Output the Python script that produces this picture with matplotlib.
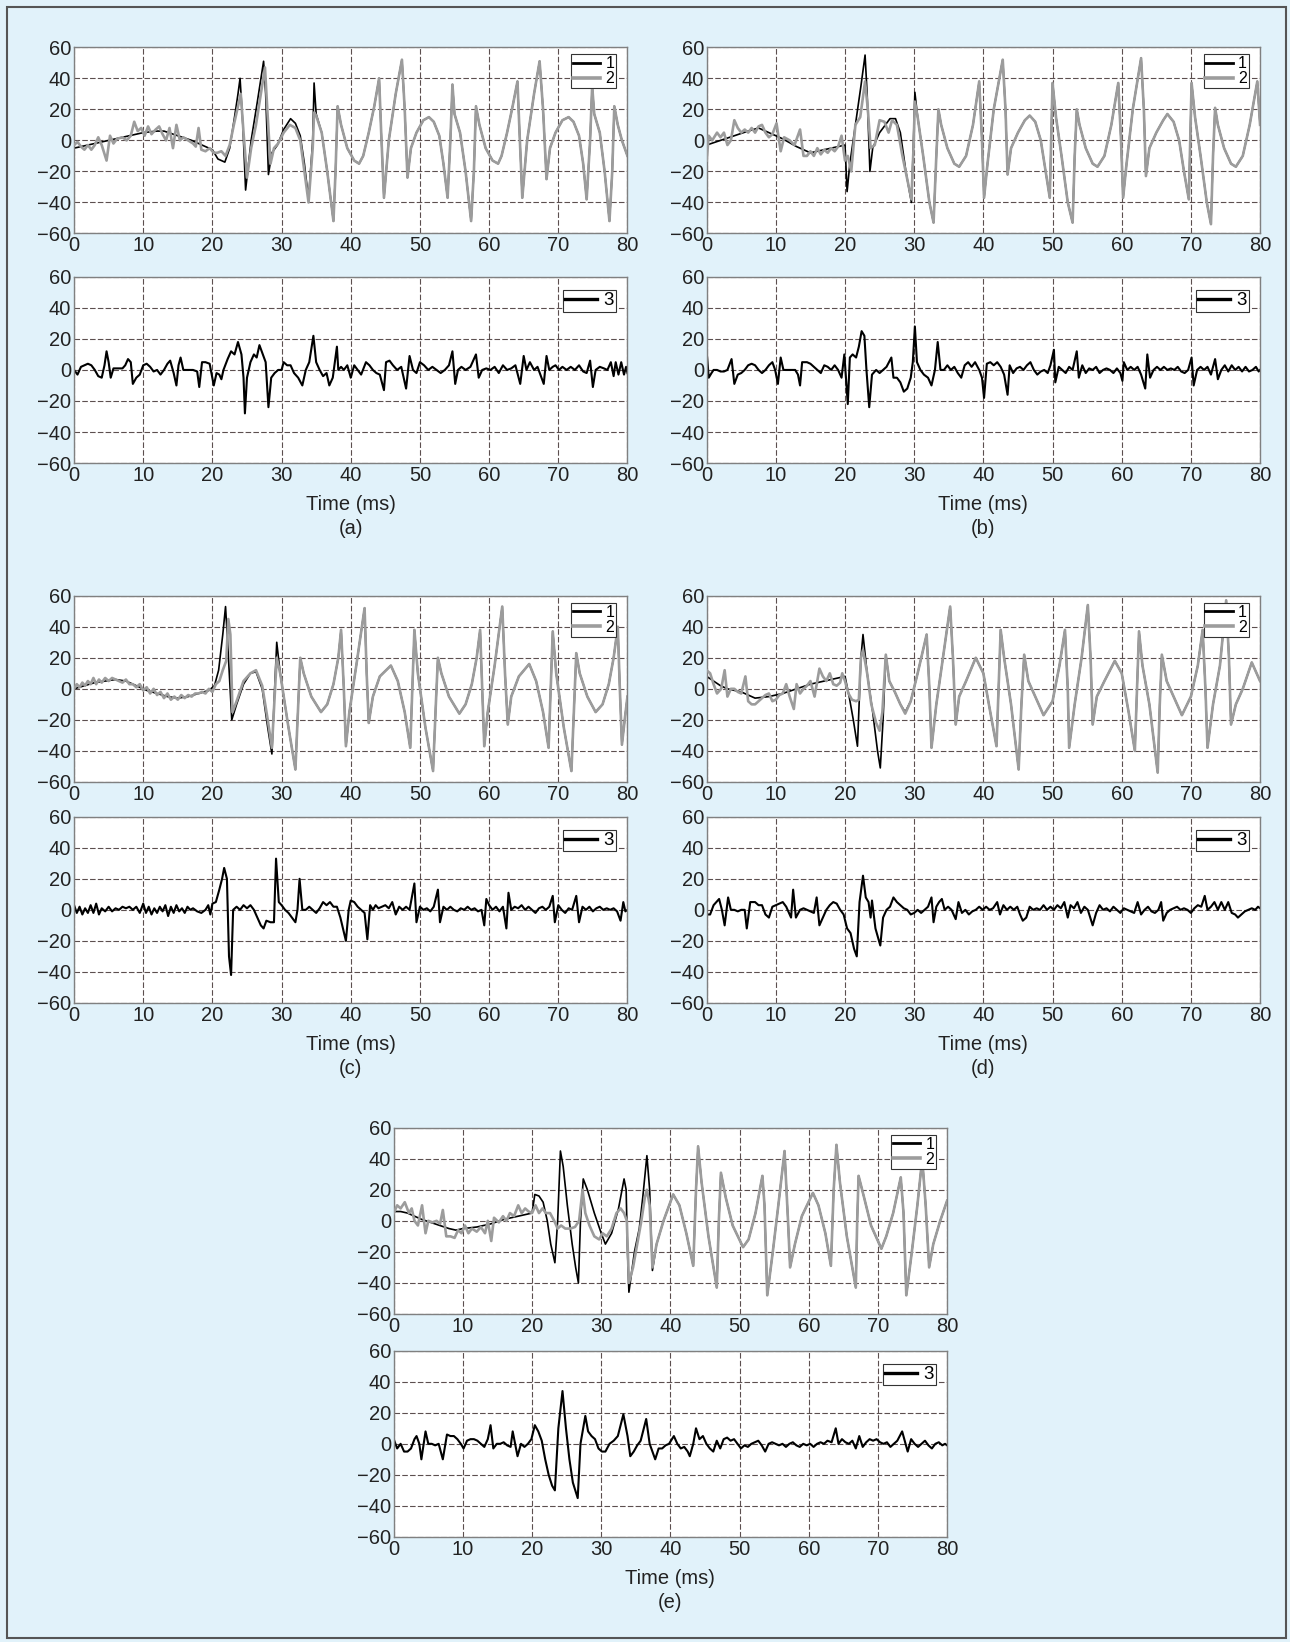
import matplotlib
matplotlib.use("Agg")
import matplotlib.pyplot as plt
from matplotlib.patches import Rectangle

plt.rcParams['font.family'] = ['Liberation Sans', 'DejaVu Sans']
plt.rcParams['axes.unicode_minus'] = True

BG = '#e1f2fa'
GRID = '#5c4f4f'
GRAY = '#9c9c9c'

# ---- data: (time in ms, amplitude) ----
# panel (a)
a1 = [(0,-5),(2,-3),(4,-1),(6,1),(8,3),(10,5),(12,6),(13,6),(15,3),(17,0),(19,-4),(20,-6),(20.8,-12),(21.8,-14),
      (22.5,-5),(23.2,15),(23.7,30),(24.0,40),(24.4,10),(24.8,-32),(25.6,0),(26.5,25),(27.4,51),(27.7,30),(28.1,-22),
      (28.6,-8),(29.4,-3),(30.3,7),(31.3,14),(32.0,11),(32.7,3),(33.3,-15),(33.9,-38),(34.5,0),(34.7,37),(35.0,17),
      (35.8,5),(36.6,-20),(37.5,-52),(37.8,-20),(38.1,22),(38.6,10),(39.5,-5),(40.5,-13),(41.2,-15),(41.8,-10),(42.6,5),
      (43.4,22),(44.1,40),(44.4,5),(44.8,-37),(45.5,0),(46.5,30),(47.4,52),(47.8,20),(48.2,-24),(48.7,-5),(49.5,5),
      (50.5,13),(51.3,15),(52.0,12),(52.8,3),(53.4,-15),(54.0,-37),(54.4,0),(54.7,36),(55.0,17),(55.8,5),(56.6,-20),
      (57.4,-52),(57.8,-20),(58.1,22),(58.6,10),(59.5,-5),(60.5,-13),(61.3,-15),(61.8,-10),(62.6,5),(63.4,22),(64.1,38),
      (64.4,5),(64.8,-37),(65.5,0),(66.5,30),(67.3,51),(67.8,20),(68.3,-25),(68.8,-5),(69.6,5),(70.6,13),(71.5,15),
      (72.2,12),(73.0,3),(73.6,-15),(74.1,-38),(74.6,0),(74.9,35),(75.2,17),(76.0,5),(76.7,-20),(77.4,-52),(77.8,-20),
      (78.1,22),(78.6,10),(79.2,0),(80,-10)]
a2_head = [(0,-3),(0.5,-1),(1,-4),(1.5,-6),(2,-3),(2.5,-6),(3,-3),(3.5,2),(4,-3),(4.7,-13),(5.2,3),(5.7,-2),(6.2,1),
           (7,2),(7.6,0),(8.2,3),(8.7,12),(9.2,6),(9.7,8),(10.2,3),(10.7,9),(11.2,4),(11.8,7),(12.3,9),(12.8,4),(13.3,0),
           (13.8,8),(14.3,-5),(14.8,10),(15.3,0),(15.8,2),(16.5,0),(17.2,-2),(17.6,-4),(18.0,8),(18.4,-6),(19,-7),
           (19.6,-5),(20.2,-8),(20.7,-8),(21.3,-7),(21.9,-10),(22.5,-3),(23.1,10),(23.7,22),(24.1,30),(24.5,5),
           (25.0,-24),(25.6,-5),(26.3,10),(27.0,30),(27.6,47),(28.0,15),(28.4,-15),(28.9,-5),(29.5,-2),(30.3,5),
           (31.2,10),(32.0,8),(32.7,0),(33.3,-20),(33.9,-40),(34.5,-5),(34.7,18),(35.0,16)]
a3 = [(0,0),(0.5,-3),(1,2),(1.5,3),(2,4),(2.5,3),(3,0),(3.5,-4),(4,-5),(4.4,3),(4.7,12),(5.0,5),(5.3,-5),(5.7,1),
      (6.2,1),(7,1),(7.4,3),(7.8,7),(8.2,5),(8.5,-9),(9,-5),(9.5,-3),(10,3),(10.5,4),(11,2),(11.5,-1),(12,0),(12.5,-3),
      (13,0),(13.5,4),(13.9,6),(14.4,-2),(14.8,-10),(15.1,3),(15.4,8),(15.8,0),(16.5,0),(17.2,0),(17.8,-1),(18.1,-11),
      (18.5,5),(19,5),(19.6,4),(20.2,-10),(20.6,-2),(21.0,-3),(21.3,-6),(21.6,0),(22.2,7),(22.7,12),(23.2,10),
      (23.7,18),(24.2,10),(24.5,-5),(24.7,-28),(25.0,-5),(25.5,5),(26.0,10),(26.4,8),(26.8,16),(27.3,10),(27.7,5),
      (28.1,-24),(28.5,-5),(29.0,-2),(29.5,0),(30.0,0),(30.3,5),(30.8,3),(31.3,3),(31.8,-2),(32.4,-5),(33.0,-10),
      (33.5,0),(34.0,5),(34.6,22),(35.0,5),(35.5,0),(36.0,-4),(36.5,-2),(36.9,-10),(37.4,-5),(38.0,15),(38.2,0),
      (38.6,2),(39.0,0),(39.5,3),(40.0,-5),(40.5,3),(41.0,0),(41.5,-3),(42.2,5),(42.7,3),(43.2,0),(43.7,-2),(44.2,-3),
      (44.8,-13),(45.1,5),(45.6,6),(46.1,3),(46.7,0),(47.3,2),(48.0,-12),(48.5,9),(49.0,0),(49.5,-2),(50.0,5),
      (50.6,3),(51.2,0),(51.8,2),(52.4,0),(53.0,-2),(53.6,0),(54.2,3),(54.7,12),(55.1,-9),(55.5,0),(56.0,2),(56.6,0),
      (57.3,2),(58.1,10),(58.5,-5),(59.0,0),(59.6,1),(60.2,0),(60.8,2),(61.4,-2),(62.0,3),(62.6,0),(63.2,1),(63.8,3),
      (64.5,-9),(65.0,9),(65.4,0),(65.9,5),(66.5,0),(67.0,2),(67.9,-9),(68.3,9),(68.7,0),(69.2,2),(69.6,3),(70.1,0),
      (70.6,2),(71.2,0),(71.8,2),(72.4,0),(73.0,3),(73.6,-1),(74.1,-2),(74.6,6),(75.0,-11),(75.4,0),(76.0,2),(76.6,1),
      (77.1,0),(77.6,5),(78.0,-4),(78.3,5),(78.7,-3),(79.1,5),(79.5,-3),(79.8,2),(80,-2)]

# panel (b)
b1 = [(0,-3),(2,0),(4,3),(6,6),(7.5,8),(9,5),(11,1),(13,-4),(15,-8),(17,-6),(19,-4),(20,-3),(20.3,-33),(20.7,-15),
      (21.5,10),(22.3,35),(22.9,55),(23.2,30),(23.6,-20),(24.0,-5),(25.0,5),(26.5,14),(27.3,14),(28.0,5),(28.8,-20),
      (29.6,-40),(29.9,0),(30.1,31),(30.5,15),(31.3,-10),(32.2,-40),(32.8,-53),(33.2,-10),(33.5,20),(33.9,10),
      (34.8,-5),(35.8,-15),(36.5,-17),(37.5,-10),(38.5,10),(39.4,38),(39.8,0),(40.1,-37),(40.6,-15),(41.5,20),
      (42.8,52),(43.2,20),(43.5,-22),(44.0,-5),(45.0,5),(46.0,13),(46.7,16),(47.5,12),(48.3,0),(49.0,-20),(49.6,-37),
      (49.8,0),(50.0,37),(50.5,15),(51.3,-10),(52.2,-40),(52.9,-53),(53.2,-10),(53.5,20),(53.9,10),(54.8,-5),
      (55.8,-15),(56.5,-17),(57.5,-10),(58.5,10),(59.5,37),(59.9,0),(60.2,-37),(60.7,-15),(61.6,20),(62.8,53),
      (63.2,20),(63.5,-23),(64.0,-5),(65.0,5),(66.0,13),(66.6,17),(67.5,12),(68.3,0),(69.0,-20),(69.7,-38),(69.9,0),
      (70.1,37),(70.6,15),(71.4,-10),(72.3,-40),(72.9,-54),(73.2,-10),(73.5,21),(73.9,10),(74.8,-5),(75.8,-15),
      (76.5,-17),(77.5,-10),(78.5,10),(79.6,38),(80,10)]
b2_head = [(0,-13),(0.3,3),(0.8,0),(1.5,5),(2,2),(2.5,5),(3,-3),(3.5,0),(4,13),(4.5,8),(5,5),(5.5,7),(6,5),(6.5,8),
           (7,5),(7.5,9),(8,10),(8.5,5),(9,2),(9.5,4),(10.1,11),(10.7,-7),(11.2,2),(12,0),(12.7,-3),(13.5,7),(14,-10),
           (14.5,-10),(15,-7),(15.5,-10),(16,-5),(16.5,-9),(17,-6),(17.5,-8),(18,-5),(18.5,-7),(19,-4),(19.5,3),
           (20,-13),(20.4,-10),(20.9,-20),(21.5,10),(22.2,15),(22.9,38),(23.3,20),(23.7,-5),(24.3,-3),(25.0,13),
           (25.7,12),(26.3,5),(26.8,13),(27.5,10),(28.3,-10),(29.0,-25),(29.6,-38),(29.9,-5),(30.1,25),(30.5,15)]
b3 = [(0,12),(0.3,-5),(0.7,-2),(1,0),(1.5,0),(2,-1),(2.5,-1),(3,0),(3.6,7),(4.0,-9),(4.5,-3),(5,-2),(5.5,0),(6,3),
      (6.5,4),(7,3),(7.5,0),(8,-2),(8.5,0),(9,3),(9.5,5),(9.9,0),(10.3,-9),(10.7,8),(11.1,0),(11.6,0),(12.2,0),
      (12.8,0),(13.2,-3),(13.5,-10),(13.8,5),(14.5,5),(15,4),(15.5,2),(16,0),(16.5,-2),(17,3),(17.5,2),(18,0),
      (18.5,3),(19,0),(19.5,-5),(19.9,10),(20.4,-22),(20.7,8),(21.1,10),(21.6,8),(22.0,15),(22.4,25),(22.8,22),
      (23.1,0),(23.5,-24),(23.9,-3),(24.5,0),(25.0,-2),(25.5,0),(26.0,2),(26.7,8),(27.0,-5),(27.5,-5),(28.0,-8),
      (28.5,-14),(29.0,-12),(29.5,-5),(29.8,5),(30.1,28),(30.4,5),(30.9,0),(31.4,-3),(32.0,-5),(32.5,-10),(33.0,0),
      (33.4,18),(33.8,0),(34.3,0),(34.8,3),(35.3,0),(35.8,2),(36.3,-2),(36.8,-5),(37.3,3),(37.8,5),(38.3,2),(38.8,5),
      (39.4,0),(39.8,-5),(40.1,-18),(40.5,4),(41.0,5),(41.5,3),(42.0,5),(42.5,2),(43.0,-3),(43.5,-16),(43.8,3),
      (44.3,-2),(44.8,1),(45.3,2),(45.8,0),(46.3,3),(46.8,5),(47.3,0),(47.8,-3),(48.3,-1),(48.8,0),(49.3,-2),
      (49.7,3),(50.2,13),(50.4,-8),(50.9,2),(51.4,0),(51.9,-2),(52.4,2),(52.9,0),(53.5,12),(53.8,-5),(54.3,3),
      (54.8,-2),(55.3,1),(55.8,0),(56.3,2),(56.8,-2),(57.3,0),(57.8,1),(58.3,0),(58.8,-2),(59.3,1),(59.8,-2),
      (60.1,-7),(60.3,5),(60.8,0),(61.3,2),(61.8,0),(62.3,2),(62.8,-3),(63.4,-12),(63.7,10),(64.1,-5),(64.6,0),
      (65.1,2),(65.6,0),(66.1,2),(66.6,0),(67.1,1),(67.6,0),(68.1,2),(68.6,-1),(69.1,-2),(69.6,0),(70.1,8),(70.4,-10),
      (70.9,0),(71.4,2),(71.9,0),(72.4,2),(72.9,-3),(73.5,7),(73.9,-6),(74.4,0),(74.9,3),(75.4,-1),(75.9,3),(76.4,0),
      (76.9,2),(77.4,-1),(77.9,2),(78.4,-1),(78.9,0),(79.4,2),(79.8,-1),(80,0)]

# panel (c)
c1 = [(0,0),(1.5,2),(3,4),(4.5,5),(6,6),(7.5,5),(9,2),(10.5,-1),(12,-3),(13.5,-5),(15,-6),(16.5,-5),(18,-3),
      (19.5,-1),(20.3,2),(20.9,12),(21.5,35),(21.9,53),(22.2,30),(22.8,-20),(23.5,-10),(24.5,3),(25.5,10),(26.3,11),
      (27.2,0),(28.0,-25),(28.6,-42),(29.0,0),(29.3,30),(29.8,10),(31.0,-25),(32.0,-52),(32.4,-10),(32.7,20),(33.2,10),
      (34.3,-5),(35.7,-15),(36.6,-10),(37.5,3),(38.2,20),(38.6,38),(39.0,0),(39.3,-37),(39.8,-15),(40.8,15),(42.0,52),
      (42.3,10),(42.6,-22),(43.2,-5),(44.2,8),(45.8,15),(46.8,5),(47.8,-15),(48.6,-38),(48.9,0),(49.2,38),(49.7,10),
      (50.8,-25),(51.9,-53),(52.3,-10),(52.6,20),(53.1,10),(54.2,-5),(55.7,-16),(56.6,-10),(57.5,3),(58.2,20),
      (58.7,38),(59.0,0),(59.3,-37),(59.8,-15),(60.8,15),(61.9,53),(62.3,10),(62.7,-23),(63.2,-5),(64.3,8),(65.8,16),
      (66.8,5),(67.8,-15),(68.6,-38),(68.9,0),(69.2,37),(69.7,10),(70.8,-25),(71.9,-53),(72.3,-10),(72.6,23),
      (73.1,10),(74.2,-5),(75.4,-15),(76.4,-10),(77.3,3),(78.0,20),(78.6,40),(78.9,0),(79.2,-36),(79.6,-20),(80,-5)]
c2_head = [(0,0),(0.4,3),(0.8,1),(1.2,4),(1.6,2),(2.0,5),(2.4,3),(2.8,7),(3.2,3),(3.6,6),(4.0,4),(4.5,7),(5.0,5),
           (5.5,7),(6.0,6),(6.5,5),(7.0,4),(7.5,6),(8.0,3),(8.5,3),(9.0,1),(9.5,3),(10.0,-1),(10.5,1),(11.0,-3),
           (11.5,0),(12.0,-4),(12.5,-2),(13.0,-6),(13.5,-3),(14.0,-7),(14.5,-5),(15.0,-7),(15.5,-4),(16.0,-6),
           (16.5,-4),(17.0,-5),(17.5,-3),(18.0,-3),(18.5,-2),(19.0,-3),(19.5,0),(20.0,-2),(20.5,3),(21.0,5),(21.5,12),
           (22.0,18),(22.3,45),(22.6,35),(22.9,-15),(23.5,-8),(24.5,5),(25.5,10),(26.3,12),(27.2,2),(28.0,-20),
           (28.6,-38),(29.0,-5),(29.3,20),(29.8,10)]
c3 = [(0,3),(0.4,-2),(0.8,2),(1.2,-3),(1.6,1),(2.0,-2),(2.4,3),(2.8,-2),(3.2,4),(3.6,-3),(4.0,1),(4.5,-1),(5.0,2),
      (5.5,-1),(6.0,1),(6.5,0),(7.0,2),(7.5,1),(8.0,2),(8.5,0),(9.0,2),(9.5,-2),(10.0,4),(10.4,-2),(10.8,2),(11.2,-3),
      (11.6,1),(12.0,-2),(12.4,2),(12.8,-1),(13.2,3),(13.6,-4),(14.0,2),(14.4,-2),(14.8,3),(15.2,-1),(15.6,1),
      (16.0,-2),(16.4,2),(16.8,0),(17.2,1),(17.8,-1),(18.4,-2),(19.0,0),(19.4,3),(19.7,-3),(20.0,4),(20.5,5),
      (21.0,13),(21.4,20),(21.7,27),(22.1,20),(22.4,-30),(22.7,-42),(23.0,0),(23.5,2),(24.0,0),(24.5,3),(25.0,1),
      (25.5,3),(26.0,0),(26.5,-5),(27.0,-10),(27.4,-12),(27.8,-7),(28.4,-8),(28.9,-8),(29.2,33),(29.6,5),(30.0,3),
      (30.5,0),(31.0,-2),(31.5,-5),(32.0,-8),(32.3,0),(32.6,20),(33.0,0),(33.5,0),(34.0,2),(34.5,0),(35.0,-2),
      (35.5,1),(36.0,5),(36.5,3),(37.0,5),(37.5,2),(38.0,2),(38.5,-5),(39.3,-20),(39.7,0),(40.0,6),(40.5,5),(41.0,2),
      (41.5,0),(42.0,-2),(42.4,-19),(42.8,3),(43.2,0),(43.6,3),(44.0,1),(44.5,2),(45.0,3),(45.5,1),(46.0,5),
      (46.5,-3),(47.0,2),(47.5,0),(48.0,2),(48.5,0),(49.2,17),(49.5,-8),(50.0,2),(50.5,0),(51.0,1),(51.5,-1),
      (52.0,2),(52.6,13),(52.9,-8),(53.4,2),(53.9,0),(54.4,2),(54.9,0),(55.4,-1),(55.9,1),(56.4,0),(56.9,2),(57.4,0),
      (57.9,1),(58.4,-1),(58.9,0),(59.3,-10),(59.6,7),(60.0,3),(60.5,0),(61.0,2),(61.5,-1),(62.0,2),(62.5,-12),
      (62.8,11),(63.2,0),(63.7,2),(64.2,1),(64.7,3),(65.2,0),(65.7,2),(66.2,0),(66.7,-2),(67.2,1),(67.7,2),(68.2,0),
      (68.7,2),(69.2,9),(69.5,-8),(70.0,3),(70.5,0),(71.0,-2),(71.5,1),(72.0,0),(72.6,9),(73.0,-8),(73.5,2),(74.0,0),
      (74.5,2),(75.0,-1),(75.5,1),(76.0,2),(76.5,0),(77.0,1),(77.5,0),(78.0,1),(78.5,-1),(79.0,-7),(79.4,5),
      (79.7,-1),(80,0)]

# panel (d)
d1 = [(0,8),(1,5),(2,2),(3,0),(5,-2),(7,-6),(9,-5),(11,-3),(13,0),(15,3),(17,5),(19,7),(20,8),(20.6,-5),(21.2,-20),
      (21.8,-37),(22.3,20),(22.6,35),(23.2,10),(24.0,-15),(24.7,-40),(25.1,-51),(25.5,-20),(25.9,22),(26.4,5),
      (27.2,-2),(28.0,-10),(28.7,-15),(29.5,-8),(30.5,10),(31.8,35),(32.2,0),(32.5,-38),(33.2,-10),(34.0,15),
      (35.2,53),(35.6,20),(36.0,-23),(36.5,-5),(37.5,5),(38.9,20),(40.0,10),(41.0,-15),(41.9,-37),(42.5,38),(43.0,20),
      (44.0,-10),(45.1,-52),(45.5,-10),(45.9,22),(46.5,5),(47.5,-5),(48.7,-17),(50.0,-8),(51.0,15),(51.8,38),(52.2,0),
      (52.4,-38),(53.2,-10),(54.2,20),(55.1,54),(55.5,20),(55.8,-23),(56.4,-5),(57.5,5),(59.0,18),(60.0,10),
      (61.0,-15),(61.9,-40),(62.5,37),(63.0,15),(64.0,-10),(65.2,-54),(65.5,-10),(65.8,22),(66.5,5),(67.5,-5),
      (68.7,-17),(70.0,-5),(71.0,15),(71.7,38),(72.1,0),(72.4,-38),(73.2,-10),(74.2,15),(75.1,57),(75.5,20),
      (75.8,-23),(76.5,-10),(77.5,0),(78.8,17),(80,5)]
d2_head = [(0,12),(0.5,10),(1,3),(1.5,-3),(2.1,0),(2.6,12),(3.0,-5),(3.5,0),(4,0),(4.5,-2),(5,-3),(5.6,8),(6,-8),
           (6.5,-10),(7,-10),(7.5,-8),(8,-6),(8.5,-4),(9,-3),(9.5,-8),(10,-7),(10.5,-4),(11,-3),(11.5,3),(12,-5),
           (12.6,-13),(13,3),(13.5,-3),(14,0),(14.5,2),(15,5),(15.6,-5),(16.3,13),(16.8,8),(17.3,5),(17.8,10),(18.3,3),
           (18.8,2),(19.3,4),(19.6,10),(20,5),(20.5,-3),(21,-7),(21.6,-8),(22.0,-7),(22.3,20),(22.6,25),(23.2,10),
           (23.8,-10),(24.5,-22),(25.0,-27),(25.4,-15),(25.9,22),(26.4,5),(27.2,-2),(28.0,-10),(28.7,-16),(29.5,-8)]
d3 = [(0,-3),(0.5,-3),(1.0,3),(1.8,7),(2.2,0),(2.6,-10),(3.1,8),(3.5,0),(4.0,0),(4.5,-1),(5.0,0),(5.5,0),(5.8,-12),
      (6.3,5),(7.0,5),(7.5,3),(8.0,3),(8.5,-3),(9.0,-5),(9.5,2),(10.0,3),(10.5,4),(11.0,5),(11.5,2),(12.0,-3),
      (12.2,-5),(12.5,13),(12.9,-5),(13.5,0),(14.0,1),(14.5,0),(15.0,-1),(15.5,-2),(15.9,8),(16.3,-10),(16.8,-5),
      (17.3,0),(17.8,3),(18.3,5),(18.8,4),(19.3,0),(19.8,-3),(20.3,-12),(20.8,-15),(21.3,-25),(21.7,-30),(22.1,5),
      (22.6,22),(23.0,8),(23.4,5),(23.7,-5),(23.9,6),(24.4,-12),(25.1,-23),(25.5,-5),(26.0,0),(26.5,2),(27.0,8),
      (27.5,5),(28.0,3),(28.5,1),(29.0,0),(29.5,-3),(30.0,-2),(30.5,0),(31.0,-2),(31.5,0),(32.0,2),(32.5,8),(32.8,-8),
      (33.2,2),(33.6,5),(34.0,7),(34.4,0),(34.9,2),(35.4,0),(36.0,-6),(36.4,5),(36.9,-2),(37.4,0),(37.9,-3),(38.4,-1),
      (38.9,0),(39.4,2),(39.9,0),(40.4,2),(40.9,0),(41.4,1),(42.0,5),(42.4,-3),(42.9,3),(43.4,0),(43.9,2),(44.4,0),
      (44.9,2),(45.3,-3),(45.7,-7),(46.2,-5),(46.7,2),(47.2,0),(47.7,1),(48.2,0),(48.7,3),(49.2,0),(49.7,2),(50.2,0),
      (50.7,3),(51.2,1),(51.7,5),(52.2,-5),(52.6,3),(53.1,1),(53.6,5),(54.1,-2),(54.6,2),(55.1,0),(55.8,-10),
      (56.3,-2),(56.8,3),(57.3,0),(57.8,1),(58.3,-1),(58.8,2),(59.3,0),(59.8,-2),(60.3,1),(60.8,0),(61.3,-1),
      (61.8,-2),(62.3,5),(62.8,-3),(63.3,0),(63.8,2),(64.3,-1),(64.8,-2),(65.3,0),(65.7,5),(66.0,-7),(66.5,-2),
      (67.0,0),(67.5,1),(68.0,2),(68.5,0),(69.0,1),(69.5,0),(70.0,-2),(70.5,1),(71.0,3),(71.5,2),(72.0,9),(72.4,0),
      (72.9,2),(73.4,5),(73.9,0),(74.4,5),(74.9,0),(75.4,5),(75.9,-2),(76.4,-3),(76.8,-5),(77.3,-3),(77.8,-1),
      (78.3,0),(78.8,1),(79.3,0),(79.7,2),(80,1)]

# panel (e)
e1 = [(0,6),(1,6),(2,5),(3,3),(4,1),(6,-2),(8,-5),(9,-6),(10,-5),(12,-4),(14,-2),(16,1),(18,3),(20,5),(20.4,17),
      (21,16),(21.6,12),(22.2,0),(22.7,-15),(23.3,-27),(23.7,0),(24.1,45),(24.5,35),(25.1,10),(25.8,-15),(26.3,-30),
      (26.7,-40),(27.0,0),(27.4,27),(28.0,20),(29.0,5),(30.0,-8),(30.6,-15),(31.5,-8),(32.5,8),(33.3,27),(33.6,20),
      (33.8,-20),(34.0,-46),(34.8,-20),(35.5,-5),(36.0,15),(36.6,42),(37.0,20),(37.4,-32),(38.0,-15),(39.0,0),
      (40.4,17),(41.3,10),(42.3,-8),(43.3,-29),(43.7,20),(44.0,48),(44.5,25),(45.5,-10),(46.7,-43),(47.0,0),(47.3,31),
      (48.0,15),(49.0,-3),(50.5,-17),(51.3,-12),(52.3,5),(53.3,29),(53.6,10),(54.0,-48),(54.8,-20),(55.6,10),
      (56.5,45),(57.0,0),(57.3,-30),(58.0,-15),(59.0,3),(60.6,18),(61.4,10),(62.4,-8),(63.2,-29),(63.6,20),(64.0,49),
      (64.5,25),(65.5,-10),(66.8,-43),(67.0,0),(67.2,29),(68.0,15),(69.0,-3),(70.5,-18),(71.2,-10),(72.2,5),
      (73.3,28),(73.7,5),(74.1,-48),(74.9,-20),(75.7,10),(76.4,40),(76.9,10),(77.4,-30),(78.0,-15),(79.0,0),(80,13)]
e2_head = [(0,5),(0.5,10),(1,8),(1.6,12),(2.2,5),(2.6,8),(3.0,0),(3.5,-3),(4.1,10),(4.6,-8),(5.0,0),(5.6,-1),
           (6.2,0),(6.7,-2),(7.1,7),(7.6,-10),(8.2,-10),(8.8,-11),(9.3,-6),(9.8,-8),(10.3,-3),(10.8,-8),(11.3,-5),
           (12.0,-7),(12.6,-4),(13.2,-8),(13.6,0),(14.1,-13),(14.5,2),(15.2,-1),(15.8,3),(16.3,0),(16.8,5),(17.4,3),
           (18.0,10),(18.5,5),(19.0,8),(19.5,6),(20.0,5),(20.5,10),(21.0,5),(21.5,8),(22.0,5),(22.6,5),(23.2,0),
           (23.7,-5),(24.2,-3),(24.8,-5),(25.5,-5),(26.2,-4),(26.8,0),(27.3,20),(27.7,5),(28.3,-3),(29.0,-10),
           (29.7,-12),(30.2,-8),(30.8,-10),(31.5,-5),(32.2,5),(32.8,8),(33.3,5),(33.7,0),(34.0,-40),(34.6,-30),
           (35.2,-15),(35.8,0),(36.3,15),(36.6,20),(37.0,10),(37.4,-30)]
e3 = [(0,3),(0.5,-3),(1.0,0),(1.5,-5),(2.0,-5),(2.5,-3),(3.0,3),(3.3,5),(3.7,0),(4.0,-10),(4.6,8),(5.0,0),(5.5,0),
      (6.0,-1),(6.5,0),(7.1,-10),(7.7,6),(8.2,5),(8.7,5),(9.2,3),(9.7,0),(10.1,-3),(10.6,2),(11.1,3),(11.6,3),
      (12.1,2),(12.6,0),(13.1,-2),(13.6,3),(14.0,12),(14.4,-3),(14.9,0),(15.4,0),(15.9,1),(16.4,-1),(16.9,-2),
      (17.2,8),(17.9,-8),(18.4,0),(18.9,-2),(19.4,0),(19.9,3),(20.4,12),(20.9,8),(21.4,2),(21.9,-10),(22.4,-20),
      (22.9,-27),(23.3,-30),(23.8,10),(24.4,34),(24.9,10),(25.4,-10),(25.9,-25),(26.6,-35),(27.0,0),(27.7,18),
      (28.1,8),(28.6,5),(29.1,3),(29.6,-3),(30.1,-5),(30.6,-5),(31.2,0),(31.8,2),(32.4,5),(33.2,19),(33.8,5),
      (34.2,-8),(34.7,-5),(35.2,-1),(35.7,2),(36.5,16),(37.0,0),(37.4,-5),(37.8,-10),(38.3,-3),(38.8,-3),(39.3,-1),
      (39.8,0),(40.5,5),(41.0,0),(41.5,-3),(42.0,-2),(42.5,-5),(42.8,-8),(43.3,0),(43.7,10),(44.2,3),(44.7,5),
      (45.2,0),(45.7,-3),(46.2,-5),(46.7,2),(47.2,-3),(47.7,3),(48.2,4),(48.7,2),(49.2,3),(49.7,0),(50.2,-3),
      (50.7,-1),(51.2,-2),(51.7,0),(52.2,1),(52.7,2),(53.2,-1),(53.7,-5),(54.2,0),(54.7,1),(55.2,0),(55.7,-1),
      (56.2,0),(56.7,-2),(57.2,0),(57.7,1),(58.2,-1),(58.7,-2),(59.2,0),(59.7,-1),(60.2,0),(60.7,-2),(61.2,0),
      (61.7,1),(62.2,0),(62.7,2),(63.3,1),(63.9,10),(64.3,0),(64.8,3),(65.3,1),(65.8,0),(66.3,2),(66.8,-3),(67.3,5),
      (67.8,-2),(68.3,1),(68.8,3),(69.3,2),(69.8,3),(70.3,1),(70.8,0),(71.3,1),(71.8,-2),(72.3,0),(72.8,2),(73.5,8),
      (74.0,0),(74.3,-5),(74.8,3),(75.3,0),(75.8,-2),(76.3,0),(76.8,2),(77.3,-1),(77.8,-3),(78.3,0),(78.8,1),
      (79.3,-1),(79.7,0),(80,-1)]


def tail(head, full):
    # after the start-up, curve 2 sits right on top of curve 1
    return head + [p for p in full if p[0] > head[-1][0]]


def style(ax):
    ax.set_facecolor('white')
    ax.set_xlim(0, 80)
    ax.set_ylim(-60, 60)
    ax.set_xticks(range(0, 81, 10))
    ax.set_yticks(range(-60, 61, 20))
    ax.grid(True, color=GRID, linestyle=(0, (5, 2)), linewidth=0.8)
    ax.set_axisbelow(True)
    for sp in ax.spines.values():
        sp.set_color('#808080')
        sp.set_linewidth(1.0)
    ax.tick_params(direction='in', length=0, labelsize=14.5, pad=2, colors='#222222')


def legend_box(ax, anchor, size, **kw):
    leg = ax.legend(loc='upper right', bbox_to_anchor=anchor, borderaxespad=0, fontsize=size, fancybox=False,
                    edgecolor='#333333', framealpha=1, handlelength=1.7, handletextpad=0.35, borderpad=0.12, **kw)
    leg.get_frame().set_linewidth(0.8)
    return leg


def top_panel(pos, s1, s2):
    ax = fig.add_axes(pos)
    style(ax)
    t1, v1 = zip(*s1)
    t2, v2 = zip(*s2)
    ax.plot(t1, v1, color='black', lw=1.2, label='1', zorder=2)
    ax.plot(t2, v2, color=GRAY, lw=1.9, label='2', zorder=3)
    leg = legend_box(ax, (0.98, 0.962), 11.5, labelspacing=0.0)
    leg.get_lines()[0].set_linewidth(2.0)
    leg.get_lines()[1].set_linewidth(2.6)
    return ax


def bottom_panel(pos, s3, tag):
    ax = fig.add_axes(pos)
    style(ax)
    t3, v3 = zip(*s3)
    ax.plot(t3, v3, color='black', lw=1.5, label='3')
    leg = legend_box(ax, (0.98, 0.93), 13.5)
    leg.get_lines()[0].set_linewidth(2.4)
    ax.text(0.5, -0.225, 'Time (ms)', transform=ax.transAxes, ha='center', va='center', fontsize=14.5,
            color='#222222')
    ax.text(0.5, -0.35, tag, transform=ax.transAxes, ha='center', va='center', fontsize=14.5, color='#222222')
    return ax


fig = plt.figure(figsize=(12.9, 16.42), dpi=100, facecolor=BG)
fig.patches.append(Rectangle((0.0055, 0.0025), 0.9915, 0.9935, transform=fig.transFigure, fill=False,
                             edgecolor='#555555', linewidth=1.5))

W = 0.429
H = 0.1134
lx, rx, cx = 0.0574, 0.5478, 0.3052

top_panel([lx, 0.8578, W, H], a1, tail(a2_head, a1))
bottom_panel([lx, 0.7180, W, H], a3, '(a)')
top_panel([rx, 0.8578, W, H], b1, tail(b2_head, b1))
bottom_panel([rx, 0.7180, W, H], b3, '(b)')

top_panel([lx, 0.5238, W, H], c1, tail(c2_head, c1))
bottom_panel([lx, 0.3892, W, H], c3, '(c)')
top_panel([rx, 0.5238, W, H], d1, tail(d2_head, d1))
bottom_panel([rx, 0.3892, W, H], d3, '(d)')

top_panel([cx, 0.1998, W, H], e1, tail(e2_head, e1))
bottom_panel([cx, 0.0640, W, H], e3, '(e)')

fig.savefig('out.png', dpi=100, facecolor=BG)
